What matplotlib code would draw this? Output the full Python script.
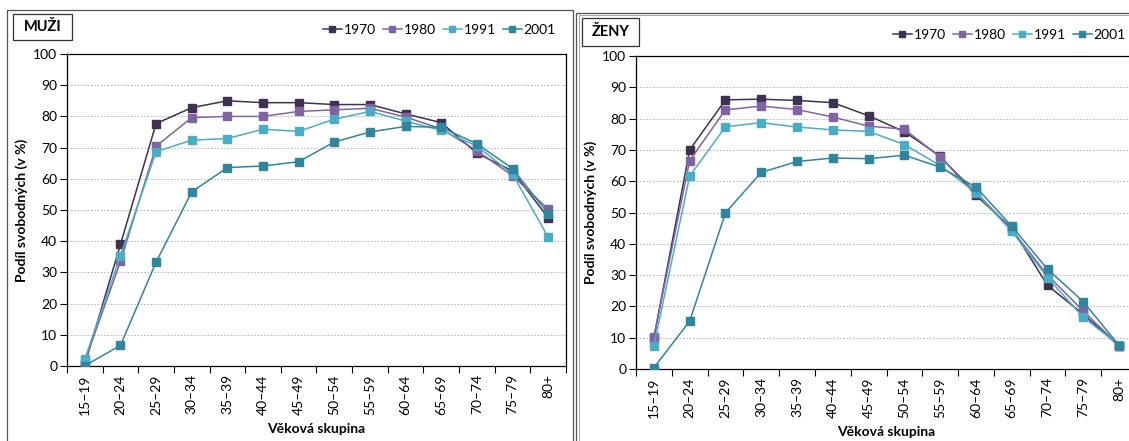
import numpy as np
import matplotlib
matplotlib.use("Agg")
import matplotlib.pyplot as plt
from matplotlib.patches import Rectangle

plt.rcParams['font.family'] = ['Lato', 'DejaVu Sans']

groups = ["15–19", "20–24", "25–29", "30–34", "35–39", "40–44", "45–49",
          "50–54", "55–59", "60–64", "65–69", "70–74", "75–79", "80+"]
years = ["1970", "1980", "1991", "2001"]
colors = ["#3f3151", "#8064a2", "#4bacc6", "#31859c"]

men_1970 = [0.5, 39.0, 77.7, 82.8, 85.0, 84.4, 84.4, 83.8, 83.8, 80.8, 78.0, 68.2, 62.5, 47.5]
men_1980 = [1.5, 33.5, 70.5, 79.6, 80.0, 80.0, 81.6, 82.1, 82.6, 79.8, 76.0, 69.0, 61.0, 50.3]
men_1991 = [2.2, 35.4, 68.7, 72.4, 72.9, 75.9, 75.2, 79.1, 81.6, 78.5, 75.5, 70.5, 61.5, 41.3]
men_2001 = [0.1, 6.6, 33.3, 55.8, 63.6, 64.1, 65.5, 71.8, 75.0, 76.8, 76.5, 71.2, 63.3, 48.8]

women_1970 = [10.0, 70.0, 86.0, 86.2, 85.8, 85.1, 80.9, 75.8, 68.0, 55.5, 45.0, 26.7, 17.5, 7.3]
women_1980 = [10.2, 66.6, 82.8, 84.0, 82.9, 80.5, 77.6, 76.6, 67.7, 56.5, 44.5, 30.0, 18.5, 7.5]
women_1991 = [7.5, 61.6, 77.4, 78.7, 77.3, 76.4, 75.9, 71.7, 65.0, 56.3, 44.0, 29.2, 16.5, 7.7]
women_2001 = [0.4, 15.3, 49.9, 62.8, 66.3, 67.4, 67.2, 68.3, 64.5, 58.1, 45.6, 31.9, 21.5, 7.5]

W, H = 1129, 441
fig = plt.figure(figsize=(W / 100, H / 100), dpi=100)


def px_axes(x0, x1, y0, y1):
    return fig.add_axes([x0 / W, (H - y1) / H, (x1 - x0) / W, (y1 - y0) / H])


def title_box(x0, x1, y0, y1, text):
    fig.patches.append(Rectangle((x0 / W, (H - y1) / H), (x1 - x0) / W, (y1 - y0) / H,
                                 transform=fig.transFigure, fc="white", ec="#333333", lw=0.9))
    fig.text((x0 + x1) / 2 / W, (H - (y0 + y1) / 2) / H, text, fontsize=10.5,
             fontweight="bold", ha="center", va="center")


def draw_panel(ax, series, leg_x, leg_y):
    x = np.arange(len(groups))
    for vals, yr, c in zip(series, years, colors):
        ax.plot(x, vals, color=c, lw=1.1, marker="s", ms=5.5, label=yr, zorder=3)
    ax.set_xlim(-0.5, len(groups) - 0.5)
    ax.set_ylim(0, 100)
    ax.set_yticks(range(0, 101, 10))
    ax.set_xticks(x)
    ax.set_xticklabels(groups, rotation=90, fontsize=10)
    ax.set_xticks(np.arange(-0.5, len(groups), 1), minor=True)
    ax.tick_params(axis="x", which="major", length=0, pad=6)
    ax.tick_params(axis="x", which="minor", length=5, direction="out", width=0.8)
    ax.tick_params(axis="y", length=5, direction="out", width=0.8, labelsize=10, pad=2)
    ax.grid(axis="y", color="#b0b0b0", ls=(0, (2, 2)), lw=0.6)
    for s in ax.spines.values():
        s.set_linewidth(0.9)
    ax.set_xlabel("Věková skupina", fontsize=10, fontweight="bold", labelpad=6)
    ax.set_ylabel("Podíl svobodných (v %)", fontsize=10, fontweight="bold", labelpad=4)
    ax.legend(loc="center left", bbox_to_anchor=(leg_x, leg_y), bbox_transform=fig.transFigure,
              ncol=4, frameon=False, fontsize=10, handlelength=1.35, handletextpad=0.15,
              columnspacing=0.5, markerscale=0.9, borderaxespad=0, borderpad=0)


ax1 = px_axes(67, 566, 54, 366)
draw_panel(ax1, [men_1970, men_1980, men_1991, men_2001], 323 / W, (H - 30) / H)

ax2 = px_axes(636, 1137, 56, 369)
draw_panel(ax2, [women_1970, women_1980, women_1991, women_2001], 893 / W, (H - 35) / H)

# panel frames
fig.patches.append(Rectangle((7 / W, -0.1), (573 - 7) / W, (H - 10) / H + 0.1,
                             transform=fig.transFigure, fill=False, ec="#555555", lw=0.9))
fig.patches.append(Rectangle((576 / W, -0.1), 0.6, (H - 13) / H + 0.1,
                             transform=fig.transFigure, fill=False, ec="#555555", lw=0.9))
fig.patches.append(Rectangle((578.5 / W, -0.1), 0.6, (H - 15) / H + 0.1,
                             transform=fig.transFigure, fill=False, ec="#999999", lw=0.6))

title_box(13, 72, 14, 40, "MUŽI")
title_box(582, 639, 18, 46, "ŽENY")

fig.savefig("out.png", dpi=100)
